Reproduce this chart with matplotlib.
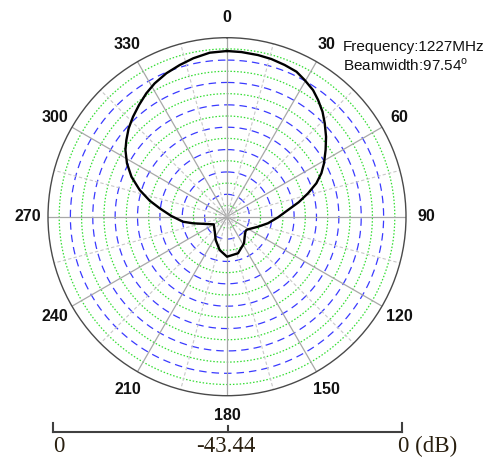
import matplotlib
matplotlib.use("Agg")
import matplotlib.pyplot as plt
import numpy as np
from matplotlib.lines import Line2D

# ---------------- data ----------------
angles_deg = [0, 5, 10.9, 15.7, 20.8, 25.6, 29.6, 34.2, 38, 42.3, 46.3, 51.1,
              55.9, 61.2, 65.3, 69.5, 73.9, 78.6, 83.7, 90.7, 99.1, 107.9,
              121, 124.4, 129, 138.5, 147.4, 163.3, 180, 192.4, 205.9, 219,
              240, 250.5, 259, 263.5, 270.7, 277.1, 281.7, 287, 292.7, 298.1,
              303.3, 307.3, 311.9, 316.8, 321.8, 326.8, 331.5, 337.1, 342.7,
              348, 354, 360]
gain_db = [-3.23, -3.33, -3.50, -3.69, -4.05, -4.42, -5.29, -6.29, -7.52,
           -9.00, -10.63, -12.55, -14.54, -16.58, -18.23, -20.29, -22.98,
           -25.70, -28.54, -31.06, -33.37, -35.53, -37.49, -37.74, -37.69,
           -36.96, -35.77, -34.17, -33.73, -35.16, -37.15, -38.73, -39.73,
           -38.13, -35.04, -32.69, -29.95, -26.99, -24.29, -21.28, -18.30,
           -15.92, -13.95, -12.74, -11.36, -10.14, -8.93, -7.67, -6.63,
           -5.65, -4.88, -4.13, -3.42, -3.23]
db_min = -43.44
db_max = 0.0
n_rings = 16
angle_labels = ["0", "30", "60", "90", "120", "150", "180", "210", "240",
                "270", "300", "330"]
scale_labels = ["0", "-43.44", "0 (dB)"]
freq_text = "Frequency:1227MHz"
beam_text = "Beamwidth:97.54"

# ---------------- figure ----------------
W, H = 490, 470
fig = plt.figure(figsize=(W / 100, H / 100), dpi=100)
fig.patch.set_facecolor("white")

cx, cy, R = 227.0, 216.7, 179.0
ax = fig.add_axes([(cx - R) / W, (H - cy - R) / H, 2 * R / W, 2 * R / H],
                  projection="polar")
ax.set_theta_zero_location("N")
ax.set_theta_direction(-1)
ax.set_ylim(db_min, db_max)
ax.grid(False)
ax.set_xticks([])
ax.set_yticks([])
ax.spines["polar"].set_color("#4a4a4a")
ax.spines["polar"].set_linewidth(1.0)

full = np.linspace(0, 2 * np.pi, 721)
for i in range(1, n_rings):
    r = db_min + (db_max - db_min) * i / n_rings
    if i % 2:
        ax.plot(full, np.full_like(full, r), color="#33dd33", lw=0.9,
                linestyle=(0, (1.2, 1.5)), zorder=1)
    else:
        ax.plot(full, np.full_like(full, r), color="#3a3aff", lw=0.9,
                linestyle=(0, (6, 4)), zorder=1)

for a in range(0, 360, 15):
    t = np.deg2rad(a)
    if a % 30 == 0:
        ax.plot([t, t], [db_min, db_max], color="#a8a8a8", lw=0.9, zorder=2)
    else:
        ax.plot([t, t], [db_min, db_max], color="#c8c8c8", lw=0.8,
                linestyle=(0, (3, 2)), zorder=2)

ax.plot(np.deg2rad(angles_deg), gain_db, color="black", lw=1.7, zorder=5)

label_r = db_min + (db_max - db_min) * 199.0 / R
for i, lab in enumerate(angle_labels):
    ax.text(np.deg2rad(30 * i), label_r, lab, ha="center", va="center",
            fontsize=11.5, fontweight="bold", family="Liberation Sans",
            color="#111111", clip_on=False)

# info text
fig.text(342.7 / W, 1 - 50.7 / H, freq_text, ha="left", va="baseline",
         fontsize=11, family="Liberation Sans", color="#111111")
fig.text(342.7 / W, 1 - 70.7 / H, beam_text + r"$^{\mathregular{o}}$",
         ha="left", va="baseline", fontsize=11, family="Liberation Sans",
         color="#111111")

# scale bar
bar_y = 431.7
x_left, x_mid, x_right = 53.3, 227.7, 401.7
bc = "#404040"
fig.add_artist(Line2D([x_left / W, x_right / W], [1 - bar_y / H, 1 - bar_y / H],
                      transform=fig.transFigure, color=bc, lw=1.5))
for xx, top in [(x_left, 422.7), (x_right, 422.7), (x_mid, 426.0)]:
    fig.add_artist(Line2D([xx / W, xx / W], [1 - top / H, 1 - (bar_y + 0.5) / H],
                          transform=fig.transFigure, color=bc, lw=1.5))

ty = 1 - 446.7 / H
fig.text(59 / W, ty, scale_labels[0], ha="center", va="center", fontsize=16.5,
         family="Liberation Serif", color="#2a2010")
fig.text(226 / W, ty, scale_labels[1], ha="center", va="center", fontsize=16.5,
         family="Liberation Serif", color="#2a2010")
fig.text(398 / W, ty, scale_labels[2], ha="left", va="center", fontsize=16.5,
         family="Liberation Serif", color="#2a2010")

fig.savefig("out.png", dpi=100, facecolor="white")
